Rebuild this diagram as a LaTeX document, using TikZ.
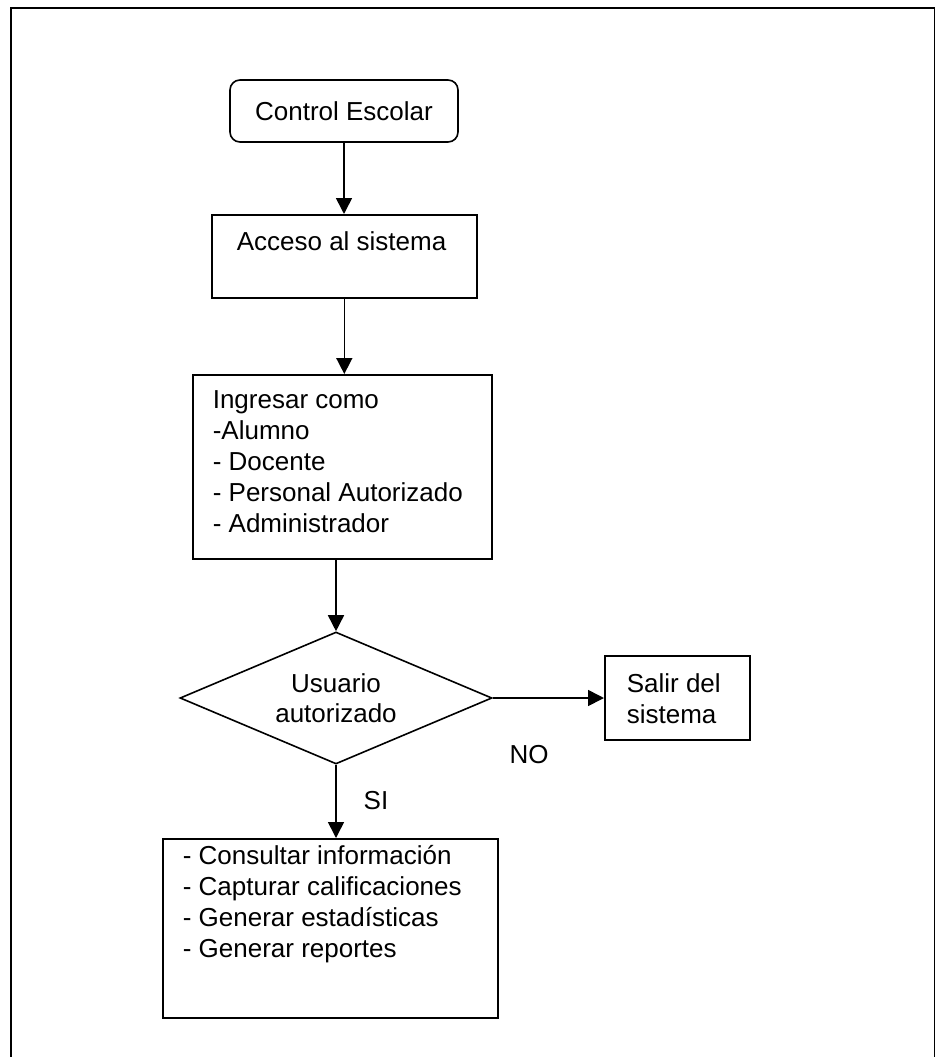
\documentclass[tikz,border=0pt]{standalone}
\usepackage{fontspec}
\setmainfont{Liberation Sans}
\usetikzlibrary{shapes.geometric,arrows.meta}
\begin{document}
\begin{tikzpicture}[x=1pt,y=-1pt,
  every node/.style={font=\fontsize{26}{31}\selectfont},
  box/.style={draw,line width=1.6pt,inner sep=0pt,anchor=north west},
  arr/.style={line width=1.6pt,-{Triangle[width=16pt,length=16pt]}},
  plain/.style={inner sep=0pt}]
\useasboundingbox (0,0) rectangle (936,1057);
% outer frame, open at the bottom
\draw[line width=1.8pt] (11,1060) -- (11,8) -- (934.5,8) -- (934.5,1060);

% start
\node[draw,line width=1.6pt,rounded corners=10pt,minimum width=228pt,minimum height=62pt,inner sep=0pt]
  (ctrl) at (344,111) {Control Escolar};

% process boxes
\node[box] (acc) at (211,214)
  {\parbox[t][83pt][t]{265pt}{\hspace*{25pt}\rule{0pt}{36pt}Acceso al sistema}};
\node[box] (ing) at (192,374)
  {\parbox[t][184pt][t]{299pt}{\leftskip=20pt\rule{0pt}{34pt}Ingresar como\\
  -Alumno\\- Docente\\- Personal Autorizado\\- Administrador}};

% decision
\node[draw,line width=1.6pt,shape=diamond,aspect=2.36,minimum width=312pt,minimum height=132pt,
  inner sep=0pt,align=center] (dec) at (336,698) {Usuario\\[-1pt]autorizado};

\node[box] (salir) at (604,655)
  {\parbox[t][84pt][t]{145pt}{\leftskip=22pt\rule{0pt}{37pt}Salir del\\sistema}};

\node[box] (fin) at (162,838)
  {\parbox[t][179pt][t]{335pt}{\leftskip=20pt\rule{0pt}{26pt}- Consultar información\\
  - Capturar calificaciones\\- Generar estadísticas\\- Generar reportes}};

% connectors
\draw[arr] (ctrl.south) -- (ctrl.south |- acc.north);
\draw[arr] (acc.south) -- (acc.south |- ing.north);
\draw[arr] (dec.north |- ing.south) -- (dec.north);
\draw[arr] (dec.east) -- (dec.east -| salir.west);
\draw[arr] (dec.south) -- (dec.south |- fin.north);

% branch labels
\node[plain] (no) at (529,755) {NO};
\node[plain] (si) at (376,801) {SI};
\end{tikzpicture}
\end{document}
